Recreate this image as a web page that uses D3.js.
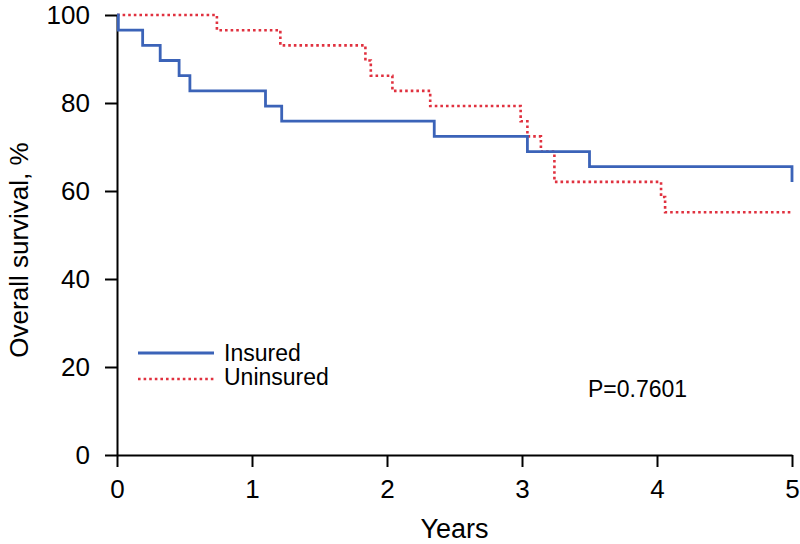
<!DOCTYPE html>
<html>
<head>
<meta charset="utf-8">
<script src="https://cdn.jsdelivr.net/npm/d3@7"></script>
<style>
  html, body { margin: 0; padding: 0; background: #fff; }
  svg { display: block; font-family: "Liberation Sans", Arial, Helvetica, sans-serif; }
</style>
</head>
<body>
<svg id="chart" width="800" height="544"></svg>
<script>
// ---- Data ----
const xTicks = [0, 1, 2, 3, 4, 5];
const yTicks = [0, 20, 40, 60, 80, 100];

// Insured: event times (years) and survival (%) after each step
const insuredTimes  = [0, 0.01, 0.19, 0.32, 0.46, 0.54, 1.10, 1.22, 2.35, 3.04, 3.50, 5.00];
const insuredValues = [100, 96.55, 93.10, 89.66, 86.21, 82.76, 79.31, 75.86, 72.41, 68.97, 65.52, 62.07];

// Uninsured
const uninsuredTimes  = [0, 0.74, 1.21, 1.84, 1.88, 2.04, 2.32, 2.99, 3.04, 3.14, 3.24, 4.03, 4.06, 5.00];
const uninsuredValues = [100, 96.55, 93.10, 89.66, 86.21, 82.76, 79.31, 75.86, 72.41, 68.97, 62.07, 58.62, 55.17, 55.17];

const seriesNames = ["Insured", "Uninsured"];
const pValueText = "P=0.7601";
const xTitle = "Years";
const yTitle = "Overall survival, %";

// ---- Layout ----
const margin = { left: 117, right: 8, top: 15, bottom: 89 };
const W = 800, H = 544;
const svg = d3.select("#chart");

const x = d3.scaleLinear().domain([0, 5]).range([margin.left, W - margin.right]);
const y = d3.scaleLinear().domain([0, 100]).range([H - margin.bottom, margin.top]);

const blue = "#3b63b8";
const red = "#e0313f";

// Axes
const xAxis = d3.axisBottom(x).tickValues(xTicks).tickSize(12).tickSizeOuter(0).tickPadding(13).tickFormat(d3.format("d"));
const yAxis = d3.axisLeft(y).tickValues(yTicks).tickSize(12).tickSizeOuter(0).tickPadding(15).tickFormat(d3.format("d"));

const gx = svg.append("g").attr("transform", `translate(0,${y(0)})`).call(xAxis);
const gy = svg.append("g").attr("transform", `translate(${x(0)},0)`).call(yAxis);

[gx, gy].forEach(g => {
  g.select(".domain").attr("stroke", "#000").attr("stroke-width", 2);
  g.selectAll(".tick line").attr("stroke", "#000").attr("stroke-width", 2);
  g.selectAll(".tick text").attr("fill", "#000").style("font-size", "26px")
    .style("font-family", '"Liberation Sans", Arial, Helvetica, sans-serif');
});

// Curves
const line = d3.line().x(d => x(d[0])).y(d => y(d[1])).curve(d3.curveStepAfter);
const insured = insuredTimes.map((t, i) => [t, insuredValues[i]]);
const uninsured = uninsuredTimes.map((t, i) => [t, uninsuredValues[i]]);

svg.append("path").datum(uninsured).attr("d", line)
  .attr("fill", "none").attr("stroke", red).attr("stroke-width", 2.6)
  .attr("stroke-dasharray", "2.6,3");

svg.append("path").datum(insured).attr("d", line)
  .attr("fill", "none").attr("stroke", blue).attr("stroke-width", 2.8);

// Legend
const leg = svg.append("g");
const legItems = [
  { name: seriesNames[0], color: blue, dash: null, yLine: 353, yText: 361 },
  { name: seriesNames[1], color: red, dash: "2.6,3", yLine: 379, yText: 385 }
];
legItems.forEach(it => {
  leg.append("line").attr("x1", 138).attr("x2", 214).attr("y1", it.yLine).attr("y2", it.yLine)
    .attr("stroke", it.color).attr("stroke-width", it.dash ? 2.6 : 2.8)
    .attr("stroke-dasharray", it.dash);
  leg.append("text").attr("x", 224).attr("y", it.yText).text(it.name)
    .style("font-size", "23px").attr("fill", "#000");
});

// P-value
svg.append("text").attr("x", 588).attr("y", 397).text(pValueText)
  .style("font-size", "23px").attr("fill", "#000");

// Axis titles
svg.append("text").attr("x", (x(0) + x(5)) / 2).attr("y", 538)
  .attr("text-anchor", "middle").style("font-size", "27px").attr("fill", "#000").text(xTitle);

svg.append("text").attr("transform", "translate(28,250) rotate(-90)")
  .attr("text-anchor", "middle").style("font-size", "26px").attr("fill", "#000").text(yTitle);
</script>
</body>
</html>
